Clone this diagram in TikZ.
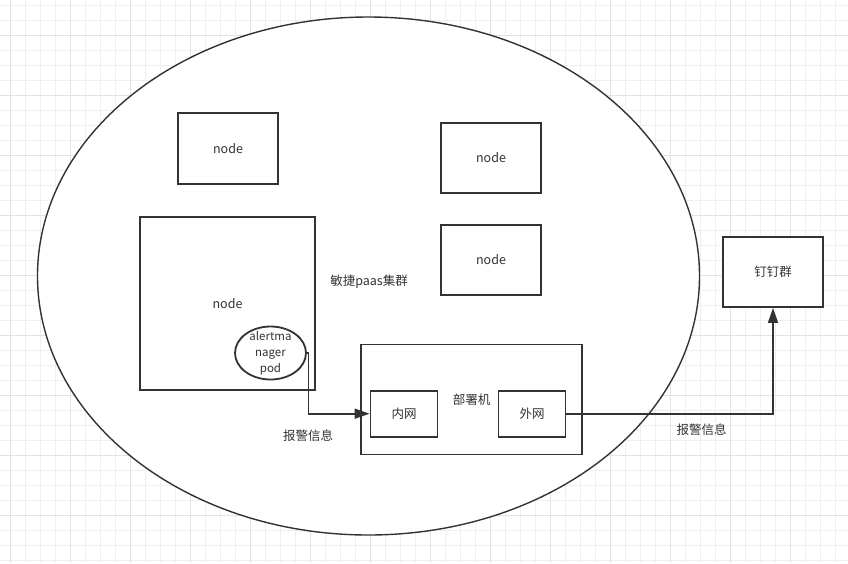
\documentclass[tikz,border=0pt]{standalone}
\usepackage{fontspec}
\setmainfont{Noto Sans CJK SC}
\usepackage{tikz}
\usetikzlibrary{shapes.geometric,arrows.meta}

\definecolor{linegray}{HTML}{333333}
\definecolor{gridminor}{HTML}{EFEFEF}
\definecolor{gridmajor}{HTML}{E3E3E3}
\tikzset{
	box/.style={draw=linegray,line width=1.8pt,fill=white,inner sep=0pt,text=linegray},
	lbl/.style={text=linegray,inner sep=0pt},
	flow/.style={draw=linegray,line width=1.6pt,-{Triangle[length=15pt,width=10pt]}}
}

\begin{document}
\begin{tikzpicture}[x=1pt,y=-1pt,font=\fontsize{12.5}{16}\selectfont]
				\useasboundingbox (0,0) rectangle (848,563);
				\fill[white] (0,0) rectangle (848,563);
				% grid
				\foreach \gx in {10,25,...,835} \draw[gridminor,line width=0.8pt] (\gx,0) -- (\gx,563);
				\foreach \gy in {5,20,...,560} \draw[gridminor,line width=0.8pt] (0,\gy) -- (848,\gy);
				\foreach \gx in {10,70,...,790} \draw[gridmajor,line width=0.8pt] (\gx,0) -- (\gx,563);
				\foreach \gy in {35,95,...,515} \draw[gridmajor,line width=0.8pt] (0,\gy) -- (848,\gy);
				% cluster
				\node[ellipse,draw=linegray,line width=1.4pt,fill=white,inner sep=0pt,minimum width=662pt,minimum height=518pt] (cluster) at (368.5,276) {};
				\node[lbl] (clusterlabel) at (369,281.5) {敏捷paas集群};
				\node[box,minimum width=100pt,minimum height=71pt] (nodeA) at (228,148.5) {node};
				\node[box,minimum width=175pt,minimum height=173pt] (nodeB) at (227.5,303.5) {node};
				\node[box,minimum width=100pt,minimum height=70pt] (nodeC) at (491,158) {node};
				\node[box,minimum width=100pt,minimum height=70pt] (nodeD) at (491,260) {node};
				\node[box,ellipse,minimum width=71pt,minimum height=53pt] (pod) at (270.5,353) {};
				\node[lbl,align=center,font=\fontsize{11.5}{16}\selectfont] (podtext) at (pod) {alertma\\nager\\pod};
				% deploy machine
				\node[box,minimum width=221pt,minimum height=110pt] (deploy) at (471.5,399.5) {部署机};
				\node[box,minimum width=67pt,minimum height=46pt] (inner) at (404,413.7) {内网};
				\node[box,minimum width=67pt,minimum height=46pt] (outer) at (532,413.7) {外网};
				\node[box,minimum width=100pt,minimum height=70pt] (dingding) at (773,272) {钉钉群};
				% alerts
				\draw[flow] (pod.east) -- ++(1.5,0) |- (inner.west);
				\draw[flow] (outer.east) -| (dingding.south);
				\node[lbl] (alertA) at (308,436) {报警信息};
				\node[lbl] (alertB) at (701.5,430) {报警信息};
			\end{tikzpicture}
\end{document}
